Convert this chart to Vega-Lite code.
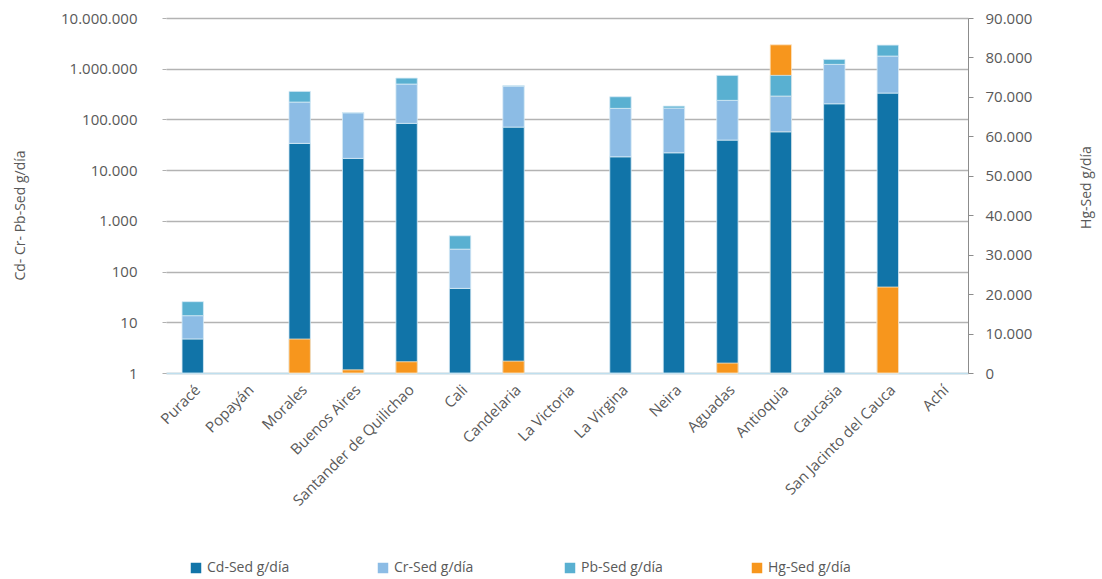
{
  "$schema": "https://vega.github.io/schema/vega-lite/v6.json",
  "width": 802,
  "height": 355,
  "autosize": {"type": "none"},
  "padding": {"left": 166, "top": 18, "right": 134, "bottom": 206},
  "config": {
    "view": {"stroke": null},
    "font": "Open Sans",
    "locale": {"number": {"decimal": ",", "thousands": ".", "grouping": [3], "currency": ["$", ""]}},
    "axis": {"labelColor": "#595959", "titleColor": "#595959", "labelFont": "Open Sans", "titleFont": "Open Sans", "titleFontWeight": "normal"},
    "legend": {"labelColor": "#595959", "labelFont": "Open Sans"}
  },
  "data": {
    "values": [
      {"city": "Puracé", "series": "Cd-Sed g/día", "value": 4.7},
      {"city": "Puracé", "series": "Cr-Sed g/día", "value": 8.8},
      {"city": "Puracé", "series": "Pb-Sed g/día", "value": 12.0},
      {"city": "Morales", "series": "Cd-Sed g/día", "value": 33700},
      {"city": "Morales", "series": "Cr-Sed g/día", "value": 186100},
      {"city": "Morales", "series": "Pb-Sed g/día", "value": 137600},
      {"city": "Morales", "series": "Hg-Sed g/día", "value": 8600},
      {"city": "Buenos Aires", "series": "Cd-Sed g/día", "value": 17060},
      {"city": "Buenos Aires", "series": "Cr-Sed g/día", "value": 118100},
      {"city": "Buenos Aires", "series": "Pb-Sed g/día", "value": 1500},
      {"city": "Buenos Aires", "series": "Hg-Sed g/día", "value": 800},
      {"city": "Santander de Quilichao", "series": "Cd-Sed g/día", "value": 83600},
      {"city": "Santander de Quilichao", "series": "Cr-Sed g/día", "value": 414200},
      {"city": "Santander de Quilichao", "series": "Pb-Sed g/día", "value": 155800},
      {"city": "Santander de Quilichao", "series": "Hg-Sed g/día", "value": 2850},
      {"city": "Cali", "series": "Cd-Sed g/día", "value": 46.6},
      {"city": "Cali", "series": "Cr-Sed g/día", "value": 230},
      {"city": "Cali", "series": "Pb-Sed g/día", "value": 231},
      {"city": "Candelaria", "series": "Cd-Sed g/día", "value": 70600},
      {"city": "Candelaria", "series": "Cr-Sed g/día", "value": 383900},
      {"city": "Candelaria", "series": "Pb-Sed g/día", "value": 8000},
      {"city": "Candelaria", "series": "Hg-Sed g/día", "value": 3000},
      {"city": "La Virgina", "series": "Cd-Sed g/día", "value": 18340},
      {"city": "La Virgina", "series": "Cr-Sed g/día", "value": 146800},
      {"city": "La Virgina", "series": "Pb-Sed g/día", "value": 114700},
      {"city": "Neira", "series": "Cd-Sed g/día", "value": 21990},
      {"city": "Neira", "series": "Cr-Sed g/día", "value": 145400},
      {"city": "Neira", "series": "Pb-Sed g/día", "value": 15900},
      {"city": "Aguadas", "series": "Cd-Sed g/día", "value": 39150},
      {"city": "Aguadas", "series": "Cr-Sed g/día", "value": 198450},
      {"city": "Aguadas", "series": "Pb-Sed g/día", "value": 501400},
      {"city": "Aguadas", "series": "Hg-Sed g/día", "value": 2500},
      {"city": "Antioquia", "series": "Cd-Sed g/día", "value": 57060},
      {"city": "Antioquia", "series": "Cr-Sed g/día", "value": 231500},
      {"city": "Antioquia", "series": "Pb-Sed g/día", "value": 450400},
      {"city": "Antioquia", "series": "Hg-Sed g/día", "value": 83200},
      {"city": "Caucasia", "series": "Cd-Sed g/día", "value": 203600},
      {"city": "Caucasia", "series": "Cr-Sed g/día", "value": 1013400},
      {"city": "Caucasia", "series": "Pb-Sed g/día", "value": 311000},
      {"city": "San Jacinto del Cauca", "series": "Cd-Sed g/día", "value": 331000},
      {"city": "San Jacinto del Cauca", "series": "Cr-Sed g/día", "value": 1444000},
      {"city": "San Jacinto del Cauca", "series": "Pb-Sed g/día", "value": 1150000},
      {"city": "San Jacinto del Cauca", "series": "Hg-Sed g/día", "value": 21780}
    ]
  },
  "encoding": {
    "x": {
      "field": "city",
      "type": "nominal",
      "sort": null,
      "scale": {
        "domain": ["Puracé", "Popayán", "Morales", "Buenos Aires", "Santander de Quilichao", "Cali", "Candelaria", "La Victoria", "La Virgina", "Neira", "Aguadas", "Antioquia", "Caucasia", "San Jacinto del Cauca", "Achí"],
        "paddingInner": 0.6,
        "paddingOuter": 0.3
      },
      "axis": {
        "title": null,
        "labelAngle": -45,
        "labelFontSize": 15,
        "ticks": false,
        "labelPadding": 9,
        "domainColor": "#bfdfee",
        "domainWidth": 1.5,
        "grid": false
      }
    },
    "color": {
      "field": "series",
      "type": "nominal",
      "scale": {
        "domain": ["Cd-Sed g/día", "Cr-Sed g/día", "Pb-Sed g/día", "Hg-Sed g/día"],
        "range": ["#1174a8", "#8cbce5", "#59b0d1", "#f7961d"]
      },
      "legend": {
        "title": null,
        "orient": "none",
        "legendX": 23,
        "legendY": 543,
        "direction": "horizontal",
        "columns": 4,
        "gridAlign": "all",
        "columnPadding": 86,
        "symbolType": "square",
        "symbolSize": 110,
        "symbolStrokeWidth": 0,
        "labelFontSize": 14,
        "labelOffset": 4
      }
    }
  },
  "layer": [
    {
      "transform": [{"filter": "datum.series === 'Hg-Sed g/día'"}],
      "mark": {"type": "bar", "stroke": "#fde6c8", "strokeWidth": 0.8},
      "encoding": {
        "y": {
          "field": "value",
          "type": "quantitative",
          "scale": {"domain": [0, 90000], "nice": false},
          "axis": {
            "orient": "right",
            "title": "Hg-Sed g/día",
            "titleFontSize": 14,
            "titleAngle": -90,
            "titleX": 118,
            "titleY": 169,
            "titleBaseline": "middle",
            "values": [0, 10000, 20000, 30000, 40000, 50000, 60000, 70000, 80000, 90000],
            "format": ",d",
            "labelFontSize": 15,
            "labelPadding": 12,
            "tickSize": 5,
            "tickColor": "#8c8c8c",
            "domainColor": "#8c8c8c",
            "grid": false
          }
        }
      }
    },
    {
      "transform": [
        {"filter": "datum.series !== 'Hg-Sed g/día'"},
        {"stack": "value", "groupby": ["city"], "sort": [{"field": "series", "order": "ascending"}], "as": ["v0", "v1"]}
      ],
      "mark": {"type": "bar", "stroke": "#d6eaf5", "strokeWidth": 0.8},
      "encoding": {
        "y": {
          "field": "v1",
          "type": "quantitative",
          "scale": {"type": "log", "domain": [1, 10000000], "clamp": true, "nice": false},
          "axis": {
            "orient": "left",
            "title": "Cd- Cr- Pb-Sed g/día",
            "titleFontSize": 14,
            "titleX": -146,
            "titleY": 197,
            "titleBaseline": "middle",
            "values": [1, 10, 100, 1000, 10000, 100000, 1000000, 10000000],
            "format": ",d",
            "labelFontSize": 15,
            "labelPadding": 25,
            "tickSize": 4,
            "tickColor": "#b0b0b0",
            "domain": false,
            "grid": true,
            "gridColor": "#b3b3b3",
            "gridWidth": 1.3
          }
        },
        "y2": {"field": "v0"}
      }
    },
    {
      "transform": [{"filter": "datum.series === 'Hg-Sed g/día' && datum.city !== 'Antioquia'"}],
      "mark": {"type": "bar", "stroke": "#fde6c8", "strokeWidth": 0.8},
      "encoding": {
        "y": {
          "field": "value",
          "type": "quantitative",
          "scale": {"domain": [0, 90000], "nice": false},
          "axis": null
        }
      }
    }
  ],
  "resolve": {"scale": {"y": "independent"}, "axis": {"y": "independent"}}
}
